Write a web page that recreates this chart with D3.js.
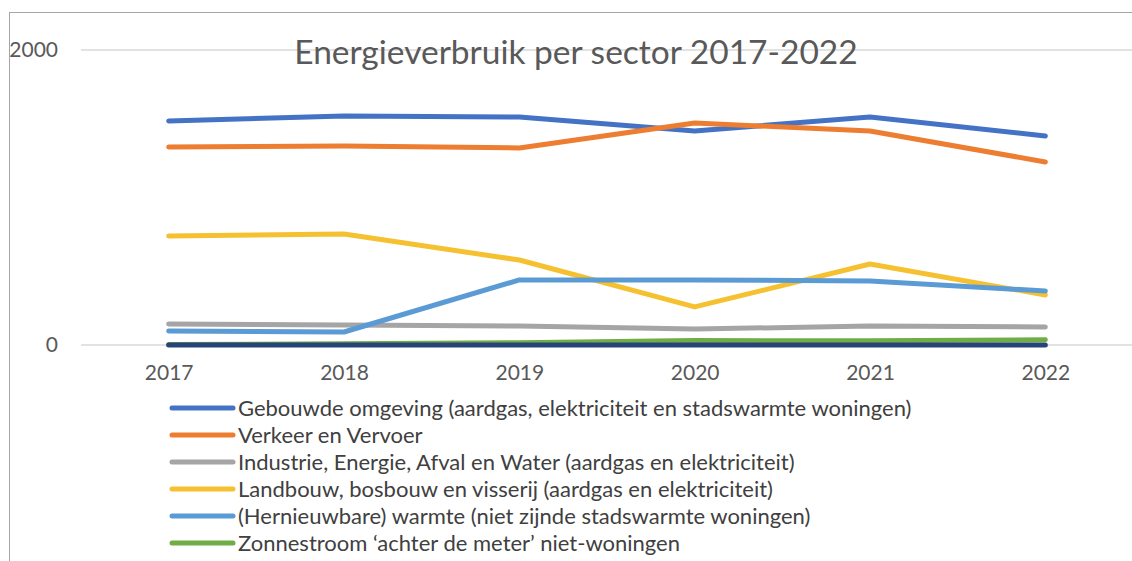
<!DOCTYPE html>
<html>
<head>
<meta charset="utf-8">
<script src="https://cdn.jsdelivr.net/npm/d3@7"></script>
<style>
  body { margin: 0; background: #fff; }
  svg { display: block; }
</style>
</head>
<body>
<div class="canvas"></div>
<script>
// Data

const years = ["2017", "2018", "2019", "2020", "2021", "2022"];
const yTicks = [0, 2000];

const seriesNames = [
    "Gebouwde omgeving (aardgas, elektriciteit en stadswarmte woningen)",
    "Verkeer en Vervoer",
    "Industrie, Energie, Afval en Water (aardgas en elektriciteit)",
    "Landbouw, bosbouw en visserij (aardgas en elektriciteit)",
    "(Hernieuwbare) warmte (niet zijnde stadswarmte woningen)",
    "Zonnestroom \u2018achter de meter\u2019 niet-woningen",
    "Overig"
];

const gebouwd   = [1519, 1553, 1546, 1451, 1546, 1417];
const verkeer   = [1342, 1349, 1336, 1505, 1451, 1241];
const industrie = [142, 136, 129, 108, 129, 122];
const landbouw  = [739, 753, 576, 258, 549, 339];
const warmte    = [95, 88, 441, 441, 434, 366];
const zon       = [3, 8, 15, 30, 28, 35];
const overig    = [0, 0, 0, 0, 0, 0];

const colors = ["#4472C4", "#ED7D31", "#A5A5A5", "#F6C131", "#5B9BD5", "#70AD47", "#264478"];

const allSeries = [gebouwd, verkeer, industrie, landbouw, warmte, zon, overig];

// draw order: last series on top
const drawOrder = [0, 1, 2, 3, 4, 5, 6];

// Dimensions

const W = 1132, H = 561;
const plot = { left: 81, right: 1133, top: 50, bottom: 345 };

const svg = d3.select(".canvas")
    .append("svg")
        .attr("width", W)
        .attr("height", H);

// chart frame (runs off the right / bottom of the picture)
svg.append("rect")
    .attr("x", 9.5)
    .attr("y", 12.5)
    .attr("width", 1300)
    .attr("height", 700)
    .attr("fill", "none")
    .attr("stroke", "#a6a6a6")
    .attr("stroke-width", 1);

// Scales

const x = d3.scalePoint()
    .domain(years)
    .range([plot.left, plot.right])
    .padding(0.5);

const y = d3.scaleLinear()
    .domain([0, 2000])
    .range([plot.bottom, plot.top]);

// Horizontal grid lines

svg.selectAll(".yGrid")
    .data(yTicks)
    .join("line")
    .attr("class", "yGrid")
    .attr("x1", plot.left)
    .attr("x2", W)
    .attr("y1", d => y(d))
    .attr("y2", d => y(d))
    .attr("stroke", "#d9d9d9")
    .attr("stroke-width", 1.5);

// y-axis labels
svg.append("g")
    .attr("transform", `translate(58,0)`)
    .style("font-family", "Lato, sans-serif")
    .style("font-size", "21px")
    .call(d3.axisLeft(y).tickValues(yTicks).tickFormat(d3.format("d")).tickSize(0).tickPadding(0))
    .call(g => g.select(".domain").remove())
    .selectAll(".tick text")
    .attr("fill", "#595959");

// x-axis labels
svg.append("g")
    .attr("transform", `translate(0,${plot.bottom + 20})`)
    .style("font-family", "Lato, sans-serif")
    .style("font-size", "21px")
    .call(d3.axisBottom(x).tickSize(0).tickPadding(0))
    .call(g => g.select(".domain").remove())
    .selectAll(".tick text")
    .attr("fill", "#595959");

// Lines

const line = d3.line()
    .x((d, i) => x(years[i]))
    .y(d => y(d));

svg.selectAll(".series")
    .data(drawOrder)
    .join("path")
    .attr("class", "series")
    .attr("fill", "none")
    .attr("stroke", i => colors[i])
    .attr("stroke-width", 5)
    .attr("stroke-linecap", "round")
    .attr("stroke-linejoin", "round")
    .attr("d", i => line(allSeries[i]));

// Title

svg.append("text")
    .attr("x", 576)
    .attr("y", 64)
    .attr("text-anchor", "middle")
    .style("font-family", "Lato, sans-serif")
    .style("font-size", "33.5px")
    .attr("fill", "#595959")
    .text("Energieverbruik per sector 2017-2022");

// Legend (first six entries visible)

const legend = svg.append("g")
    .attr("transform", "translate(170,408)");

const items = legend.selectAll(".item")
    .data(d3.range(6))
    .join("g")
    .attr("class", "item")
    .attr("transform", i => `translate(0,${i * 27})`);

items.append("line")
    .attr("x1", 2)
    .attr("x2", 63)
    .attr("stroke", i => colors[i])
    .attr("stroke-width", 5)
    .attr("stroke-linecap", "round");

items.append("text")
    .attr("x", 68)
    .attr("dy", "0.35em")
    .style("font-family", "Lato, sans-serif")
    .style("font-size", "22px")
    .attr("fill", "#404040")
    .text(i => seriesNames[i]);
</script>
</body>
</html>
